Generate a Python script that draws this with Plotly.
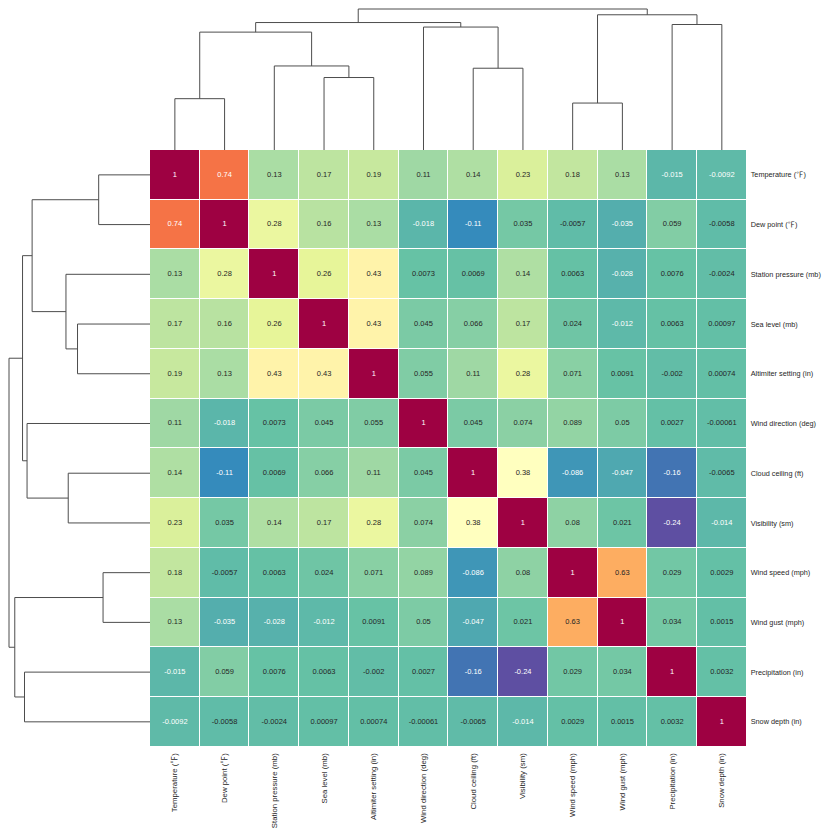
import plotly.graph_objects as go

# Variables in clustered (leaf) order
LABELS = [
    "Temperature (℉)", "Dew point (℉)", "Station pressure (mb)", "Sea level (mb)",
    "Altimiter setting (in)", "Wind direction (deg)", "Cloud ceiling (ft)", "Visibility (sm)",
    "Wind speed (mph)", "Wind gust (mph)", "Precipitation (in)", "Snow depth (in)",
]

CORR = [
    [1, 0.74, 0.13, 0.17, 0.19, 0.11, 0.14, 0.23, 0.18, 0.13, -0.015, -0.0092],
    [0.74, 1, 0.28, 0.16, 0.13, -0.018, -0.11, 0.035, -0.0057, -0.035, 0.059, -0.0058],
    [0.13, 0.28, 1, 0.26, 0.43, 0.0073, 0.0069, 0.14, 0.0063, -0.028, 0.0076, -0.0024],
    [0.17, 0.16, 0.26, 1, 0.43, 0.045, 0.066, 0.17, 0.024, -0.012, 0.0063, 0.00097],
    [0.19, 0.13, 0.43, 0.43, 1, 0.055, 0.11, 0.28, 0.071, 0.0091, -0.002, 0.00074],
    [0.11, -0.018, 0.0073, 0.045, 0.055, 1, 0.045, 0.074, 0.089, 0.05, 0.0027, -0.00061],
    [0.14, -0.11, 0.0069, 0.066, 0.11, 0.045, 1, 0.38, -0.086, -0.047, -0.16, -0.0065],
    [0.23, 0.035, 0.14, 0.17, 0.28, 0.074, 0.38, 1, 0.08, 0.021, -0.24, -0.014],
    [0.18, -0.0057, 0.0063, 0.024, 0.071, 0.089, -0.086, 0.08, 1, 0.63, 0.029, 0.0029],
    [0.13, -0.035, -0.028, -0.012, 0.0091, 0.05, -0.047, 0.021, 0.63, 1, 0.034, 0.0015],
    [-0.015, 0.059, 0.0076, 0.0063, -0.002, 0.0027, -0.16, -0.24, 0.029, 0.034, 1, 0.0032],
    [-0.0092, -0.0058, -0.0024, 0.00097, 0.00074, -0.00061, -0.0065, -0.014, 0.0029, 0.0015, 0.0032, 1],
]

# Linkage (same for rows and columns): (left id, right id, relative height)
# ids 0-11 are leaves, 12+ are earlier merges in this list
MERGES = [
    (8, 9, 0.333),    # 12
    (0, 1, 0.364),    # 13
    (3, 4, 0.514),    # 14
    (6, 7, 0.580),    # 15
    (2, 14, 0.596),   # 16
    (13, 16, 0.836),  # 17
    (5, 15, 0.872),   # 18
    (10, 11, 0.890),  # 19
    (17, 18, 0.904),  # 20
    (12, 19, 0.959),  # 21
    (20, 21, 1.0),    # 22
]

VMIN, VMAX = -0.24, 1.0
SPECTRAL_R = ["#5e4fa2", "#3288bd", "#66c2a5", "#abdda4", "#e6f598", "#ffffbf",
              "#fee08b", "#fdae61", "#f46d43", "#d53e4f", "#9e0142"]
FONT = "Liberation Sans, Noto Sans CJK JP, Arial, sans-serif"
LINE = "#4d4d4d"

# page body has an 8px margin, so the figure sits 8px in from the window corner
W = 822
H = 822
OFF = 8


def hex_rgb(h):
    return [int(h[i:i + 2], 16) for i in (1, 3, 5)]


def cmap(v):
    t = min(max((v - VMIN) / (VMAX - VMIN), 0), 1) * (len(SPECTRAL_R) - 1)
    i = min(int(t), len(SPECTRAL_R) - 2)
    f = t - i
    a, b = hex_rgb(SPECTRAL_R[i]), hex_rgb(SPECTRAL_R[i + 1])
    return [a[k] + (b[k] - a[k]) * f for k in range(3)]


def luminance(rgb):
    lin = []
    for c in rgb:
        c = c / 255
        lin.append(c / 12.92 if c <= 0.03928 else ((c + 0.055) / 1.055) ** 2.4)
    return 0.2126 * lin[0] + 0.7152 * lin[1] + 0.0722 * lin[2]


def dendro_segments():
    pos = {i: float(i) for i in range(len(LABELS))}
    hgt = {i: 0.0 for i in range(len(LABELS))}
    lead, depth = [], []
    for k, (a, b, h) in enumerate(MERGES):
        lead += [pos[a], pos[a], pos[b], pos[b], None]
        depth += [hgt[a], h, h, hgt[b], None]
        nid = len(LABELS) + k
        pos[nid] = (pos[a] + pos[b]) / 2
        hgt[nid] = h
    return lead, depth


n = len(LABELS)
idx = list(range(n))

fig = go.Figure()

fig.add_trace(go.Heatmap(
    z=CORR, x=idx, y=idx, zmin=VMIN, zmax=VMAX,
    colorscale="Spectral", reversescale=True, showscale=False,
    xgap=1, ygap=1, hoverinfo="skip",
))

tx, ty, tt, tc = [], [], [], []
for r in range(n):
    for c in range(n):
        v = CORR[r][c]
        tx.append(c)
        ty.append(r)
        tt.append(f"{v:.2g}")
        tc.append("#262626" if luminance(cmap(v)) > 0.408 else "white")

fig.add_trace(go.Scatter(
    x=tx, y=ty, text=tt, mode="text",
    textfont=dict(family=FONT, size=7.5, color=tc),
    hoverinfo="skip", showlegend=False,
))

lead, depth = dendro_segments()
fig.add_trace(go.Scatter(x=lead, y=depth, mode="lines", xaxis="x2", yaxis="y2",
                         line=dict(color=LINE, width=1), hoverinfo="skip", showlegend=False))
fig.add_trace(go.Scatter(x=depth, y=lead, mode="lines", xaxis="x3", yaxis="y3",
                         line=dict(color=LINE, width=1), hoverinfo="skip", showlegend=False))

# heatmap edges in window pixels: 150 .. 746.7 both ways
left, right = (150 - OFF) / W, (746.7 - OFF) / W
hx = [left, right]
hy = [1 - (746.7 - OFF) / H, 1 - (150 - OFF) / H]
span = 150 - OFF
top = span / (span - 1.0)

fig.update_layout(
    width=W, height=H,
    margin=dict(l=0, r=0, t=0, b=0),
    paper_bgcolor="white", plot_bgcolor="white",
    showlegend=False,
    font=dict(family=FONT, size=7.8, color="#262626"),
    xaxis=dict(domain=hx, range=[-0.5, n - 0.5], tickvals=idx, ticktext=LABELS,
               tickangle=-90, showgrid=False, zeroline=False, ticks="",
               ticklabelstandoff=4, ticklabeloverflow="allow",
               tickfont=dict(size=7.8), anchor="y"),
    yaxis=dict(domain=hy, range=[n - 0.5, -0.5], tickvals=idx, ticktext=LABELS,
               side="right", showgrid=False, zeroline=False, ticks="",
               ticklabelstandoff=3, ticklabeloverflow="allow",
               tickfont=dict(size=7.3), anchor="x"),
    xaxis2=dict(domain=hx, range=[-0.5, n - 0.5], visible=False, anchor="y2"),
    yaxis2=dict(domain=[hy[1], 1.0], range=[0, top], visible=False, anchor="x2"),
    xaxis3=dict(domain=[0, left], range=[top, 0], visible=False, anchor="y3"),
    yaxis3=dict(domain=hy, range=[n - 0.5, -0.5], visible=False, anchor="x3"),
)

fig.write_html("out.html")
